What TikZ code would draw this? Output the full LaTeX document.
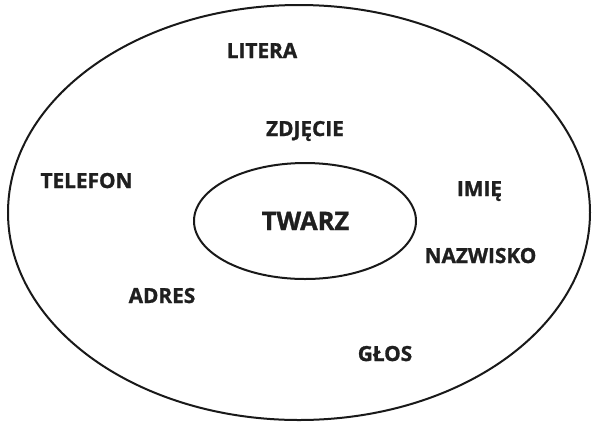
\documentclass[tikz,border=0pt]{standalone}
\usepackage{fontspec}
\setmainfont{Open Sans}[BoldFeatures={FakeBold=1.2}]
\begin{document}
\begin{tikzpicture}[x=1pt,y=-1pt,
  ring/.style={draw=black!90,line width=2pt},
  lbl/.style={anchor=base,inner sep=0pt,font=\fontsize{20.8}{25}\selectfont\bfseries,text=black!88},
  core/.style={anchor=base,inner sep=0pt,font=\fontsize{25.5}{30}\selectfont\bfseries,text=black!88}]
\useasboundingbox (0,0) rectangle (597,424);
% outer and inner rings
\draw[ring] (299,212.5) ellipse [x radius=291, y radius=207.5];
\draw[ring] (305,221) ellipse [x radius=111, y radius=58];
% centre label
\node[core] (twarz) at (305.5,230) {TWARZ};
% surrounding labels
\node[lbl] (litera)   at (262,58)    {LITERA};
\node[lbl] (zdjecie)  at (305,136)   {ZDJĘCIE};
\node[lbl] (telefon)  at (86.5,188)  {TELEFON};
\node[lbl] (imie)     at (479.5,196) {IMIĘ};
\node[lbl] (nazwisko) at (480.5,263) {NAZWISKO};
\node[lbl] (adres)    at (162,303)   {ADRES};
\node[lbl] (glos)     at (385,361)   {GŁOS};
\end{tikzpicture}
\end{document}
